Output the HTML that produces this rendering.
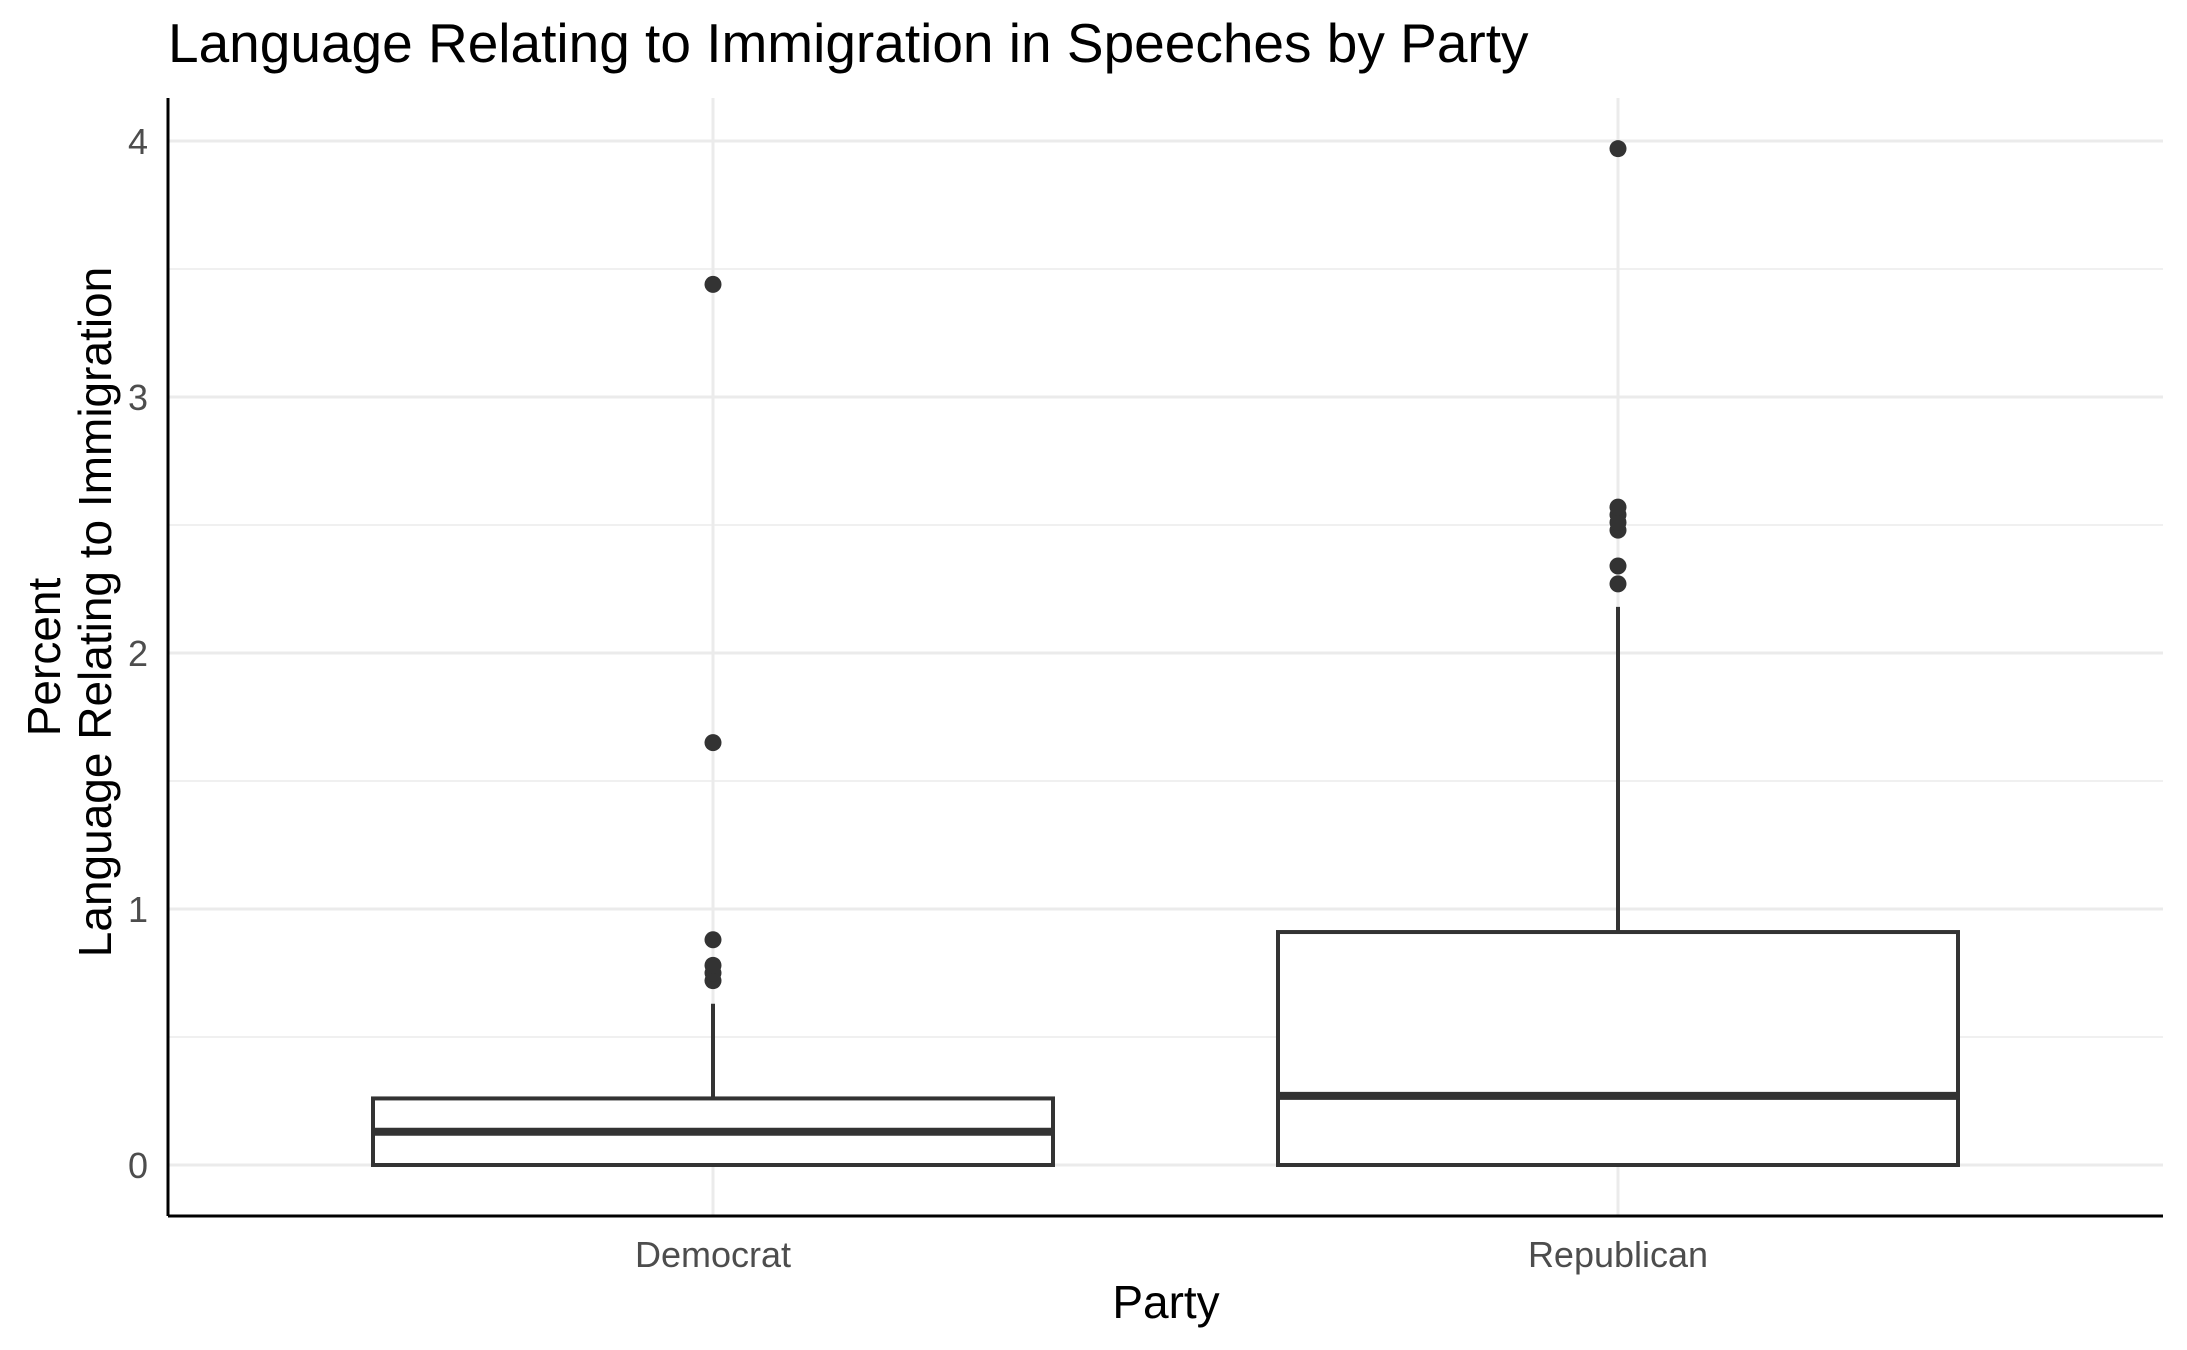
<!DOCTYPE html>
<html><head><meta charset="utf-8"><style>
body{margin:0;background:#fff;}
svg{display:block;font-family:"Liberation Sans",Arial,sans-serif;}
</style></head><body>
<svg id="c" width="2187" height="1350">
<text x="168" y="62" font-size="55" fill="#000">Language Relating to Immigration in Speeches by Party</text>
<g id="grid"></g>
<g id="marks"></g>
<line x1="168" y1="98" x2="168" y2="1216" stroke="#000" stroke-width="3"/>
<line x1="168" y1="1216" x2="2163" y2="1216" stroke="#000" stroke-width="3"/>
<g id="ticks"></g>
<text transform="translate(60,657) rotate(-90)" text-anchor="middle" font-size="46" fill="#000">Percent</text>
<text transform="translate(111,612) rotate(-90)" text-anchor="middle" font-size="46" fill="#000">Language Relating to Immigration</text>
<text x="1166" y="1318" text-anchor="middle" font-size="46" fill="#000">Party</text>
</svg>
<script>
const categories=["Democrat","Republican"];
const q1=[0,0];
const medians=[0.13,0.27];
const q3=[0.26,0.91];
const whiskerLow=[0,0];
const whiskerHigh=[0.63,2.18];
const outliers=[[0.72,0.75,0.78,0.88,1.65,3.44],[2.27,2.34,2.48,2.51,2.54,2.57,3.97]];
const yTicks=[0,1,2,3,4];
const NS="http://www.w3.org/2000/svg";
const y=v=>1165-v*256;
const x=i=>713+i*905;
const halfW=340;
function mk(tag,attrs,parent){const e=document.createElementNS(NS,tag);for(const k in attrs)e.setAttribute(k,attrs[k]);parent.appendChild(e);return e;}
const grid=document.getElementById('grid'),marks=document.getElementById('marks'),ticks=document.getElementById('ticks');
for(let v=0.5;v<4.3;v+=1){const l=mk('line',{x1:168,x2:2163,y1:y(v),y2:y(v),stroke:'#ebebeb','stroke-width':1.5},grid);

}
yTicks.forEach(t=>{const l=mk('line',{x1:168,x2:2163,y1:y(t),y2:y(t),stroke:'#ebebeb','stroke-width':3},grid);


const tx=mk('text',{x:148,y:y(t)+13,'text-anchor':'end','font-size':36,fill:'#4d4d4d'},ticks);tx.textContent=t;

});
categories.forEach((c,i)=>{const vl=mk('line',{x1:x(i),x2:x(i),y1:98,y2:1216,stroke:'#ebebeb','stroke-width':3},grid);


const g=mk('g',{},marks);


mk('line',{x1:x(i),x2:x(i),y1:y(q3[i]),y2:y(whiskerHigh[i]),stroke:'#333','stroke-width':4},g);
mk('line',{x1:x(i),x2:x(i),y1:y(q1[i]),y2:y(whiskerLow[i]),stroke:'#333','stroke-width':4},g);
mk('rect',{x:x(i)-halfW,y:y(q3[i]),width:2*halfW,height:y(q1[i])-y(q3[i]),fill:'#fff',stroke:'#333','stroke-width':4},g);
mk('line',{x1:x(i)-halfW,x2:x(i)+halfW,y1:y(medians[i]),y2:y(medians[i]),stroke:'#333','stroke-width':8},g);
outliers[i].forEach(o=>{const p=mk('circle',{cx:x(i),cy:y(o),r:8.5,fill:'#333'},g);

});
const tx=mk('text',{x:x(i),y:1267,'text-anchor':'middle','font-size':36,fill:'#4d4d4d'},ticks);tx.textContent=c;

});
</script>
</body></html>
